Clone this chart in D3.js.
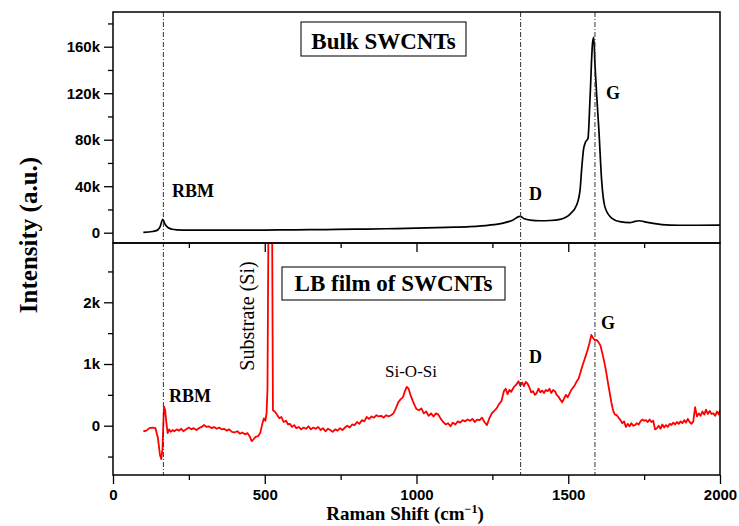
<!DOCTYPE html>
<html>
<head>
<meta charset="utf-8">
<script src="https://cdn.jsdelivr.net/npm/d3@7"></script>
<style>
  body { margin: 0; background: #fff; }
  svg { display: block; }
  .serif { font-family: "Liberation Serif", "Times New Roman", serif; }
  .tick text { font-family: "Liberation Sans", Arial, sans-serif; font-weight: bold; font-size: 15px; fill: #000; }
</style>
</head>
<body>
<div id="chart"></div>
<script>
// Bulk SWCNTs spectrum (top panel)
var bulkShift = [100, 130, 145, 155, 164, 172, 181, 195, 210, 250, 300, 400, 500, 600, 700, 800, 900, 1000, 1100, 1176, 1240, 1285, 1315, 1341, 1355, 1375, 1407, 1440, 1473, 1506, 1528, 1539, 1544, 1550, 1557, 1565, 1572, 1580, 1584, 1588, 1594, 1601, 1610, 1621, 1643, 1670, 1703, 1720, 1735, 1750, 1780, 1835, 1900, 2000];
var bulkIntensity = [300, 1000, 2000, 5000, 11500, 7000, 4500, 3000, 2500, 2200, 2200, 2200, 2300, 2500, 2700, 3000, 3400, 3900, 4600, 5200, 6500, 8300, 10500, 14000, 12000, 10800, 10300, 10500, 11500, 16000, 24000, 37000, 54000, 71000, 78000, 81000, 117000, 163000, 168000, 145000, 117000, 88000, 45000, 22000, 12600, 9500, 8600, 9800, 10300, 9500, 8000, 6600, 6400, 6600];

// LB film of SWCNTs spectrum (bottom panel)
var filmShift = [100, 110, 120, 130, 140, 148, 155, 159, 163, 168, 172, 176, 180, 185, 190, 196, 202, 210, 218, 225, 232, 240, 250, 258, 266, 275, 283, 292, 300, 308, 316, 325, 333, 342, 350, 358, 366, 375, 383, 392, 400, 410, 418, 426, 435, 443, 450, 457, 463, 470, 478, 485, 492, 497, 502, 506, 509, 519, 527, 533, 540, 548, 555, 562, 570, 577, 583, 590, 597, 604, 612, 620, 628, 636, 644, 652, 660, 668, 676, 684, 692, 700, 708, 716, 724, 732, 740, 748, 756, 764, 772, 780, 788, 796, 804, 812, 820, 828, 836, 844, 852, 860, 868, 876, 884, 892, 900, 908, 916, 924, 932, 940, 948, 955, 962, 968, 974, 980, 987, 994, 1000, 1008, 1016, 1024, 1032, 1040, 1048, 1056, 1064, 1072, 1080, 1088, 1096, 1104, 1112, 1120, 1128, 1136, 1144, 1152, 1160, 1168, 1176, 1184, 1192, 1200, 1208, 1216, 1224, 1232, 1240, 1248, 1256, 1264, 1272, 1280, 1288, 1294, 1300, 1306, 1312, 1320, 1328, 1336, 1342, 1348, 1354, 1360, 1366, 1372, 1378, 1384, 1390, 1396, 1402, 1408, 1414, 1420, 1426, 1432, 1438, 1444, 1450, 1456, 1462, 1468, 1474, 1480, 1486, 1492, 1498, 1504, 1510, 1516, 1522, 1528, 1534, 1540, 1546, 1552, 1558, 1564, 1570, 1576, 1582, 1588, 1594, 1600, 1606, 1612, 1618, 1624, 1630, 1636, 1642, 1648, 1654, 1660, 1666, 1672, 1678, 1684, 1690, 1696, 1702, 1708, 1714, 1720, 1726, 1732, 1738, 1744, 1750, 1756, 1762, 1768, 1774, 1780, 1786, 1792, 1798, 1804, 1810, 1816, 1822, 1828, 1834, 1840, 1846, 1852, 1858, 1864, 1870, 1876, 1882, 1888, 1894, 1900, 1906, 1912, 1918, 1924, 1930, 1936, 1942, 1948, 1954, 1960, 1966, 1972, 1978, 1984, 1990, 1996, 2000];
var filmIntensity = [-90, -80, -40, -30, -40, -200, -480, -540, -380, 310, 250, 40, -120, -60, -100, -70, -90, -60, -80, -50, -90, -60, -30, -60, -40, -70, -40, -20, 10, -20, -10, -40, -20, -50, -30, -60, -50, -80, -60, -100, -110, -90, -130, -110, -140, -120, -170, -250, -220, -180, -170, -120, 30, 120, 80, 200, 600, 9000, 250, 230, 180, 120, 140, 60, 80, 20, 30, -20, 10, -40, -20, -60, -30, -50, -10, -60, -30, -50, -20, -70, -40, -90, -50, -70, -100, -60, -80, -40, -70, -30, 0, -30, 20, 10, 60, 30, 90, 70, 140, 110, 150, 130, 170, 150, 160, 130, 170, 150, 170, 200, 280, 380, 430, 460, 560, 630, 600, 500, 410, 330, 270, 250, 280, 200, 230, 160, 200, 150, 200, 180, 110, 60, 20, 40, -10, 50, 20, 70, 50, 90, 70, 100, 80, 110, 60, 100, 90, 130, 60, 10, 120, 200, 240, 280, 350, 400, 560, 600, 510, 580, 550, 620, 660, 720, 650, 700, 640, 710, 680, 620, 540, 560, 500, 530, 600, 540, 570, 530, 580, 560, 600, 530, 580, 560, 500, 470, 420, 380, 440, 500, 460, 520, 580, 620, 660, 720, 760, 860, 960, 1050, 1140, 1230, 1340, 1470, 1420, 1380, 1390, 1350, 1300, 1180, 1050, 900, 720, 550, 380, 240, 180, 170, 130, 90, 40, 70, -20, 30, -10, 40, 0, 10, 40, 20, 70, 100, 80, 90, 60, 100, 60, 80, -60, -40, 0, -50, 20, -30, 10, -20, 30, 10, 50, 20, 60, 30, 70, 40, 90, 50, 110, 60, 30, 70, 300, 150, 200, 160, 230, 180, 260, 190, 240, 190, 200, 160, 230, 180, 250];

// axis ticks
var xMajor = [0, 500, 1000, 1500, 2000];
var xMinor = [250, 750, 1250, 1750];
var topMajor = [0, 40000, 80000, 120000, 160000];
var topMajorLabels = ["0", "40k", "80k", "120k", "160k"];
var topMinor = [20000, 60000, 100000, 140000, 180000];
var botMajor = [0, 1000, 2000];
var botMajorLabels = ["0", "1k", "2k"];
var botMinor = [-500, 500, 1500, 2500];

// peak marker positions (dash-dot lines)
var peakLines = [166, 1343, 1588];

var W = 739, H = 526;
var pLeft = 113, pRight = 720, pTop = 12, pMid = 243, pBottom = 475;

var svg = d3.select("#chart").append("svg")
    .attr("width", W)
    .attr("height", H);

var x = d3.scaleLinear().domain([0, 2000]).range([pLeft, pRight]);
var yTop = d3.scaleLinear().domain([-8860, 189850]).range([pMid, pTop]);
var yBot = d3.scaleLinear().domain([-799, 2961]).range([pBottom, pMid]);

svg.append("clipPath").attr("id", "clipTop")
  .append("rect").attr("x", pLeft).attr("y", pTop).attr("width", pRight - pLeft).attr("height", pMid - pTop);
svg.append("clipPath").attr("id", "clipBot")
  .append("rect").attr("x", pLeft).attr("y", pMid).attr("width", pRight - pLeft).attr("height", pBottom - pMid);

// curves
var bulkData = bulkShift.map(function(s, i) { return [s, bulkIntensity[i]]; });
var filmData = filmShift.map(function(s, i) { return [s, filmIntensity[i]]; });

svg.append("path")
    .datum(bulkData)
    .attr("clip-path", "url(#clipTop)")
    .attr("fill", "none")
    .attr("stroke", "#000")
    .attr("stroke-width", 1.7)
    .attr("d", d3.line().curve(d3.curveMonotoneX)
        .x(function(d) { return x(d[0]); })
        .y(function(d) { return yTop(d[1]); }));

svg.append("path")
    .datum(filmData)
    .attr("clip-path", "url(#clipBot)")
    .attr("fill", "none")
    .attr("stroke", "#ff0000")
    .attr("stroke-width", 1.8)
    .attr("stroke-linejoin", "round")
    .attr("d", d3.line()
        .x(function(d) { return x(d[0]); })
        .y(function(d) { return yBot(d[1]); }));

// dash-dot peak lines
svg.selectAll(".peak").data(peakLines).enter().append("line")
    .attr("class", "peak")
    .attr("x1", function(d) { return x(d); })
    .attr("x2", function(d) { return x(d); })
    .attr("y1", pTop)
    .attr("y2", pBottom)
    .attr("stroke", "#333")
    .attr("stroke-width", 1)
    .attr("stroke-dasharray", "5,2,1,2");

// frames
svg.append("rect").attr("x", pLeft).attr("y", pTop).attr("width", pRight - pLeft).attr("height", pMid - pTop)
    .attr("fill", "none").attr("stroke", "#000").attr("stroke-width", 1.5);
svg.append("rect").attr("x", pLeft).attr("y", pMid).attr("width", pRight - pLeft).attr("height", pBottom - pMid)
    .attr("fill", "none").attr("stroke", "#000").attr("stroke-width", 1.5);

function styleAxis(g) {
  g.select(".domain").remove();
  g.selectAll(".tick line").attr("stroke", "#000").attr("stroke-width", 1.3);
}

// y axes
svg.append("g").attr("transform", "translate(" + pLeft + ",0)")
    .call(d3.axisLeft(yTop).tickValues(topMajor).tickSize(9).tickPadding(4)
        .tickFormat(function(d, i) { return topMajorLabels[i]; }))
    .call(styleAxis);
svg.append("g").attr("transform", "translate(" + pLeft + ",0)")
    .call(d3.axisLeft(yTop).tickValues(topMinor).tickSize(5).tickFormat(""))
    .call(styleAxis);

svg.append("g").attr("transform", "translate(" + pLeft + ",0)")
    .call(d3.axisLeft(yBot).tickValues(botMajor).tickSize(9).tickPadding(4)
        .tickFormat(function(d, i) { return botMajorLabels[i]; }))
    .call(styleAxis);
svg.append("g").attr("transform", "translate(" + pLeft + ",0)")
    .call(d3.axisLeft(yBot).tickValues(botMinor).tickSize(5).tickFormat(""))
    .call(styleAxis);

// x axes: bottom (outward) and top of lower panel (inward)
svg.append("g").attr("transform", "translate(0," + pBottom + ")")
    .call(d3.axisBottom(x).tickValues(xMajor).tickSize(9).tickPadding(5).tickFormat(d3.format("d")))
    .call(styleAxis);
svg.append("g").attr("transform", "translate(0," + pBottom + ")")
    .call(d3.axisBottom(x).tickValues(xMinor).tickSize(5).tickFormat(""))
    .call(styleAxis);
svg.append("g").attr("transform", "translate(0," + pMid + ")")
    .call(d3.axisBottom(x).tickValues(xMajor.slice(1, 4)).tickSize(9).tickFormat(""))
    .call(styleAxis);
svg.append("g").attr("transform", "translate(0," + pMid + ")")
    .call(d3.axisBottom(x).tickValues(xMinor).tickSize(5).tickFormat(""))
    .call(styleAxis);

// title boxes
function box(x0, y0, w, h, label, baseline) {
  svg.append("rect").attr("x", x0).attr("y", y0).attr("width", w).attr("height", h)
      .attr("fill", "#fff").attr("stroke", "#222").attr("stroke-width", 1.2);
  svg.append("text").attr("class", "serif")
      .attr("x", x0 + w / 2).attr("y", baseline)
      .attr("text-anchor", "middle")
      .attr("font-weight", "bold").attr("font-size", 23)
      .text(label);
}
box(301, 22, 165, 34, "Bulk SWCNTs", 49);
box(282, 267, 223, 33, "LB film of SWCNTs", 291);

// peak annotations
function note(tx, ty, label, size, bold) {
  svg.append("text").attr("class", "serif")
      .attr("x", tx).attr("y", ty)
      .attr("font-size", size)
      .attr("font-weight", bold ? "bold" : "normal")
      .text(label);
}
note(172, 197, "RBM", 18, true);
note(529, 200, "D", 18, true);
note(606, 99, "G", 18, true);
note(169, 402, "RBM", 18, true);
note(529, 363, "D", 18, true);
note(601, 329, "G", 18, true);
svg.append("text").attr("class", "serif")
    .attr("x", 411).attr("y", 377)
    .attr("text-anchor", "middle")
    .attr("font-size", 17)
    .text("Si-O-Si");
svg.append("text").attr("class", "serif")
    .attr("transform", "translate(254,316) rotate(-90)")
    .attr("text-anchor", "middle")
    .attr("font-size", 20)
    .text("Substrate (Si)");

// axis titles
var xt = svg.append("text").attr("class", "serif")
    .attr("x", 405).attr("y", 520)
    .attr("text-anchor", "middle")
    .attr("font-weight", "bold").attr("font-size", 19);
xt.append("tspan").text("Raman Shift (cm");
xt.append("tspan").attr("dy", -7).attr("font-size", 12).text("\u22121");
xt.append("tspan").attr("dy", 7).text(")");

svg.append("text").attr("class", "serif")
    .attr("transform", "translate(37,235) rotate(-90)")
    .attr("text-anchor", "middle")
    .attr("font-weight", "bold").attr("font-size", 25)
    .text("Intensity (a.u.)");
</script>
</body>
</html>
